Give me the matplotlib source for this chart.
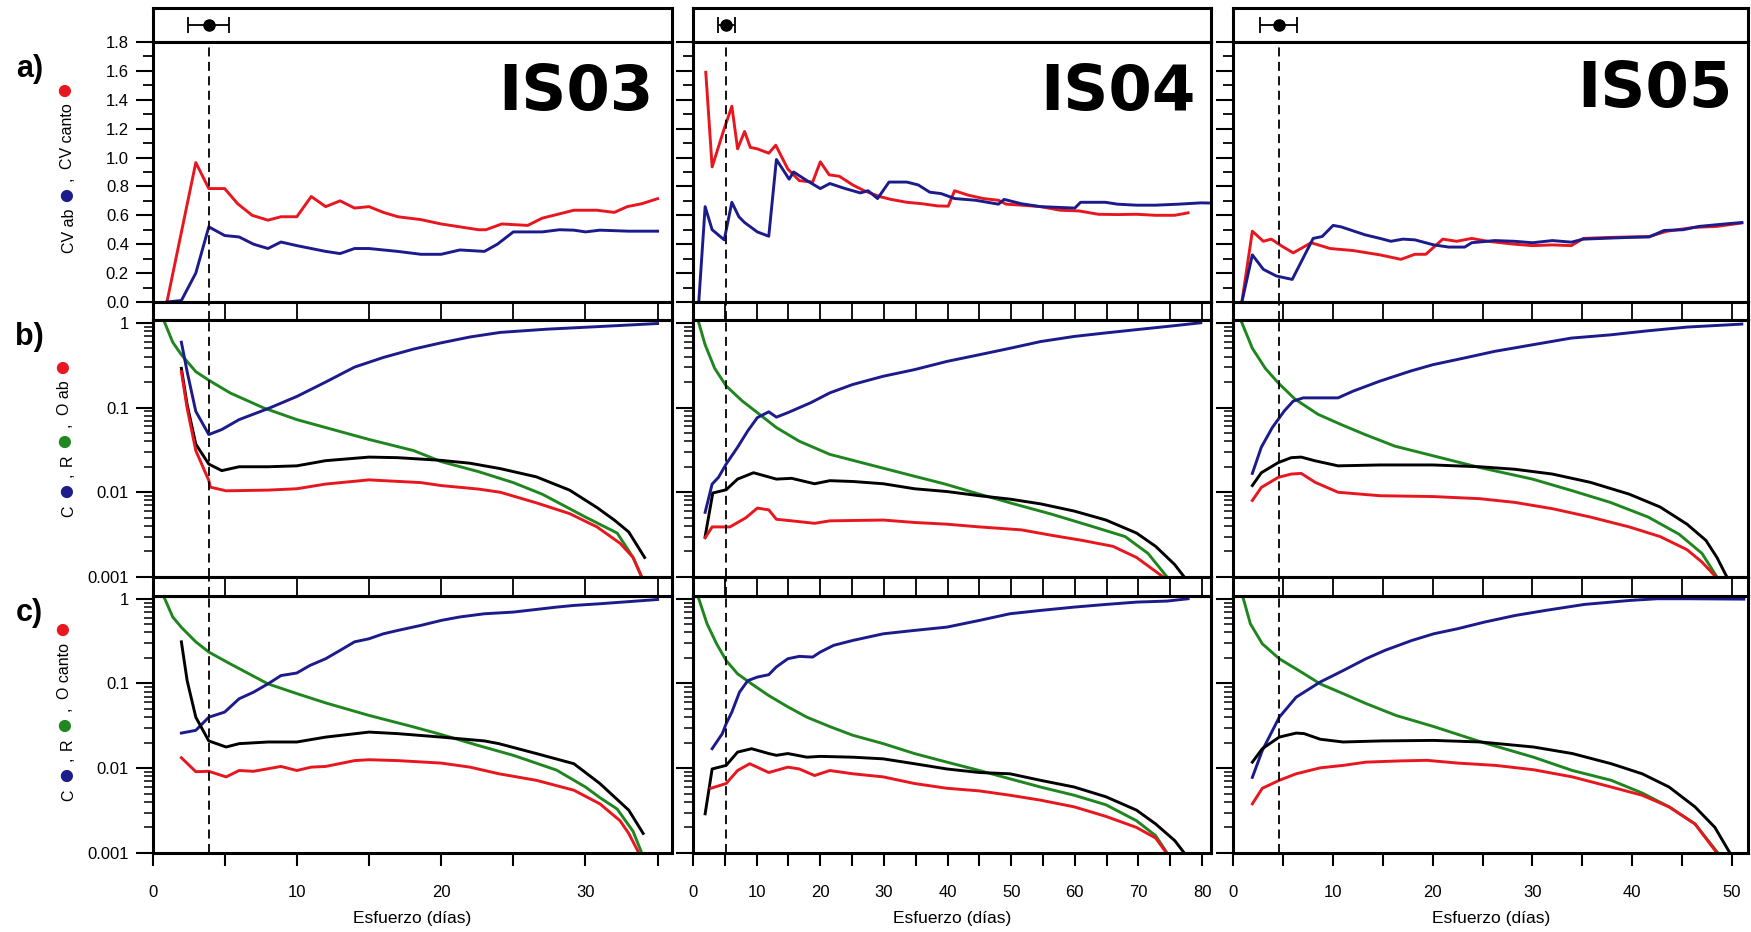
import matplotlib.pyplot as plt
from matplotlib.ticker import MultipleLocator, LogLocator, NullFormatter, FixedLocator, FixedFormatter

plt.rcParams['font.family'] = ['Liberation Sans', 'DejaVu Sans']
plt.rcParams['font.size'] = 12

RED = '#e8161e'
BLUE = '#1b1b8c'
GREEN = '#1f861f'

# ---------------- data ----------------
sites = ["IS03", "IS04", "IS05"]
x_max = [36.0, 81.4, 51.6]
effort_mean = [3.9, 5.2, 4.6]
effort_err_low = [1.45, 1.2, 1.9]
effort_err_high = [1.4, 1.4, 1.75]

# a) CV ab (blue) / CV canto (red)
is03_cv_canto_x = [1.0, 3.0, 3.9, 5.0, 5.9, 6.9, 8.0, 8.9, 10.0, 11.0, 12.0, 13.0, 14.0, 15.0, 16.0, 17.0,
                   18.6, 20.0, 21.3, 22.6, 23.1, 24.2, 26.0, 27.0, 28.2, 29.2, 30.8, 32.0, 32.9, 33.9, 35.0]
is03_cv_canto = [0.0, 0.965, 0.785, 0.785, 0.68, 0.60, 0.566, 0.59, 0.59, 0.73, 0.66, 0.70, 0.65, 0.66, 0.62,
                 0.59, 0.57, 0.54, 0.52, 0.50, 0.50, 0.54, 0.53, 0.58, 0.61, 0.635, 0.635, 0.62, 0.66, 0.68, 0.715]
is03_cv_ab_x = [1.0, 2.0, 3.0, 3.9, 5.0, 6.0, 7.0, 8.0, 8.9, 10.0, 12.0, 13.0, 14.0, 15.0, 17.0, 18.6, 20.0,
                21.3, 23.0, 23.9, 25.0, 26.0, 27.0, 28.2, 29.2, 30.0, 31.0, 33.0, 35.0]
is03_cv_ab = [0.0, 0.01, 0.2, 0.52, 0.46, 0.45, 0.40, 0.37, 0.415, 0.39, 0.35, 0.335, 0.37, 0.37, 0.35, 0.33,
              0.33, 0.36, 0.35, 0.40, 0.485, 0.485, 0.485, 0.50, 0.497, 0.485, 0.497, 0.49, 0.49]

is04_cv_canto_x = [2.0, 3.0, 4.9, 6.1, 7.0, 8.1, 9.0, 10.1, 11.9, 13.0, 14.9, 16.7, 18.8, 20.0, 21.4, 23.0,
                   25.1, 26.9, 29.3, 31.1, 33.6, 36.0, 38.4, 40.1, 41.1, 43.2, 45.6, 48.0, 49.2, 51.6, 54.6,
                   57.7, 60.7, 63.7, 66.7, 69.7, 72.7, 75.7, 77.8]
is04_cv_canto = [1.59, 0.935, 1.2, 1.355, 1.06, 1.18, 1.07, 1.06, 1.03, 1.085, 0.92, 0.84, 0.83, 0.97, 0.88,
                 0.87, 0.81, 0.77, 0.73, 0.71, 0.69, 0.68, 0.665, 0.663, 0.77, 0.74, 0.716, 0.704, 0.677,
                 0.67, 0.66, 0.635, 0.63, 0.607, 0.605, 0.607, 0.60, 0.60, 0.617]
is04_cv_ab_x = [0.9, 1.9, 3.0, 4.9, 6.1, 7.2, 8.1, 10.1, 11.9, 13.1, 15.1, 15.8, 17.9, 20.0, 21.5, 23.9,
                26.3, 27.5, 29.0, 30.8, 33.6, 35.4, 37.2, 39.0, 41.1, 44.4, 48.0, 48.9, 51.6, 54.6, 60.0,
                60.9, 64.8, 66.7, 69.7, 72.7, 76.3, 79.8, 81.0]
is04_cv_ab = [0.0, 0.66, 0.50, 0.43, 0.69, 0.59, 0.55, 0.485, 0.455, 0.986, 0.85, 0.90, 0.84, 0.785, 0.82,
              0.785, 0.755, 0.77, 0.716, 0.83, 0.83, 0.81, 0.76, 0.75, 0.716, 0.704, 0.677, 0.71, 0.68,
              0.66, 0.65, 0.69, 0.69, 0.677, 0.67, 0.67, 0.677, 0.686, 0.685]

is05_cv_canto_x = [0.85, 1.9, 3.0, 3.8, 4.9, 6.0, 7.8, 9.7, 12.0, 14.7, 16.8, 18.2, 19.3, 21.0, 22.4, 23.9,
                   25.5, 28.2, 30.0, 32.0, 33.9, 35.1, 37.8, 41.7, 43.5, 46.2, 48.5, 51.0]
is05_cv_canto = [0.0, 0.49, 0.42, 0.435, 0.385, 0.34, 0.41, 0.37, 0.356, 0.326, 0.295, 0.33, 0.33, 0.435,
                 0.42, 0.44, 0.42, 0.40, 0.39, 0.395, 0.39, 0.44, 0.447, 0.453, 0.49, 0.516, 0.523, 0.547]
is05_cv_ab_x = [0.85, 1.9, 3.0, 4.3, 5.9, 8.0, 8.9, 10.0, 10.8, 13.2, 14.7, 15.8, 17.0, 18.2, 20.1, 21.6,
                23.2, 23.9, 26.2, 28.2, 30.0, 32.0, 33.9, 35.1, 39.7, 41.7, 43.2, 45.1, 46.7, 49.3, 51.0]
is05_cv_ab = [0.0, 0.326, 0.226, 0.18, 0.156, 0.44, 0.453, 0.53, 0.52, 0.465, 0.44, 0.42, 0.435, 0.43,
              0.395, 0.38, 0.38, 0.41, 0.425, 0.42, 0.41, 0.425, 0.414, 0.435, 0.447, 0.45, 0.495, 0.50,
              0.523, 0.54, 0.55]

# b) C (blue), R (green), O ab (red), total (black)
is03_b_r_x = [0.85, 1.4, 2.0, 3.0, 3.9, 5.4, 7.7, 10.0, 12.0, 15.0, 18.1, 20.0, 22.6, 25.0, 27.0, 30.0,
              32.2, 33.3, 33.9]
is03_b_r = [1.0, 0.59, 0.42, 0.265, 0.21, 0.148, 0.099, 0.072, 0.058, 0.042, 0.031, 0.023, 0.0175, 0.013,
            0.0095, 0.0051, 0.0033, 0.0017, 0.001]
is03_b_c_x = [2.0, 2.4, 3.0, 3.9, 4.8, 6.0, 8.0, 10.0, 12.0, 14.0, 16.0, 18.1, 20.0, 22.0, 24.1, 27.3,
              30.8, 35.0]
is03_b_c = [0.59, 0.265, 0.09, 0.048, 0.055, 0.072, 0.097, 0.135, 0.2, 0.30, 0.39, 0.49, 0.58, 0.68, 0.77,
            0.84, 0.90, 0.98]
is03_b_t_x = [2.0, 2.4, 3.0, 3.9, 4.8, 6.0, 8.0, 10.0, 12.0, 15.0, 17.0, 20.0, 22.0, 24.1, 26.6, 28.9,
              30.8, 32.0, 33.0, 34.1]
is03_b_t = [0.29, 0.108, 0.037, 0.0215, 0.018, 0.020, 0.020, 0.0205, 0.0236, 0.026, 0.0256, 0.0238,
            0.022, 0.019, 0.0152, 0.0106, 0.0066, 0.0047, 0.0034, 0.0017]
is03_b_o_x = [2.0, 2.4, 3.0, 3.9, 4.0, 5.1, 8.0, 10.0, 12.0, 15.0, 18.6, 20.0, 22.6, 24.1, 26.6, 28.9,
              30.8, 32.4, 33.3, 33.9]
is03_b_o = [0.265, 0.098, 0.031, 0.0138, 0.0115, 0.0104, 0.0106, 0.011, 0.0125, 0.014, 0.013, 0.012,
            0.0109, 0.0100, 0.0075, 0.0056, 0.0039, 0.0025, 0.0017, 0.001]

is04_b_r_x = [0.9, 1.9, 3.4, 5.2, 7.7, 10.1, 13.1, 16.7, 21.5, 27.5, 33.6, 39.6, 45.0, 50.4, 56.4, 62.5,
              67.9, 71.5, 74.5]
is04_b_r = [1.0, 0.55, 0.29, 0.18, 0.12, 0.087, 0.058, 0.04, 0.028, 0.0214, 0.0163, 0.0125, 0.0095,
            0.0073, 0.0055, 0.0040, 0.0030, 0.0019, 0.001]
is04_b_c_x = [1.9, 3.0, 4.0, 5.2, 7.0, 8.6, 10.1, 11.9, 13.1, 14.9, 18.5, 21.5, 25.1, 29.9, 34.8, 39.9,
              45.0, 49.8, 54.6, 59.9, 64.9, 69.7, 74.5, 79.8]
is04_b_c = [0.0058, 0.0125, 0.015, 0.0215, 0.034, 0.053, 0.076, 0.089, 0.077, 0.087, 0.114, 0.149, 0.187,
            0.234, 0.28, 0.35, 0.42, 0.50, 0.60, 0.69, 0.76, 0.83, 0.905, 1.0]
is04_b_t_x = [1.9, 3.1, 5.2, 7.0, 9.5, 11.3, 13.1, 15.5, 19.1, 21.5, 25.1, 29.9, 34.8, 39.9, 45.0, 49.8,
              54.6, 59.9, 64.9, 69.7, 72.7, 75.7, 77.2]
is04_b_t = [0.0030, 0.0098, 0.0107, 0.0143, 0.017, 0.0156, 0.0143, 0.0146, 0.0126, 0.0137, 0.0134,
            0.0126, 0.011, 0.0102, 0.0091, 0.0083, 0.0073, 0.006, 0.0047, 0.0033, 0.0023, 0.0014, 0.001]
is04_b_o_x = [1.9, 3.0, 5.8, 8.3, 10.1, 11.9, 13.1, 15.5, 19.1, 21.5, 29.9, 34.8, 39.9, 45.0, 51.6, 56.4,
              61.2, 66.0, 69.7, 73.9]
is04_b_o = [0.0029, 0.0039, 0.0039, 0.005, 0.0065, 0.0062, 0.0048, 0.0046, 0.0043, 0.0046, 0.0047,
            0.0044, 0.0042, 0.0039, 0.0036, 0.0031, 0.0027, 0.0023, 0.0017, 0.001]

is05_b_r_x = [0.85, 1.9, 3.2, 4.5, 6.2, 8.5, 10.8, 13.2, 16.2, 20.0, 24.7, 30.0, 33.9, 37.8, 41.6, 44.7,
              47.0, 48.5]
is05_b_r = [1.0, 0.50, 0.29, 0.195, 0.125, 0.083, 0.063, 0.048, 0.035, 0.027, 0.0196, 0.0143, 0.0105,
            0.0076, 0.0051, 0.0032, 0.0019, 0.001]
is05_b_c_x = [1.9, 2.8, 3.9, 5.1, 6.0, 7.0, 8.5, 10.5, 12.0, 14.7, 17.8, 20.0, 23.2, 26.2, 30.0, 33.9,
              37.8, 41.6, 45.5, 51.0]
is05_b_c = [0.0167, 0.034, 0.058, 0.091, 0.119, 0.13, 0.13, 0.13, 0.156, 0.205, 0.27, 0.32, 0.385, 0.46,
            0.55, 0.66, 0.72, 0.805, 0.89, 0.965]
is05_b_t_x = [1.9, 2.8, 4.5, 5.8, 6.8, 8.2, 10.5, 14.7, 20.0, 24.7, 28.2, 32.0, 35.8, 39.7, 42.8, 45.5,
              47.4, 48.5, 49.5]
is05_b_t = [0.012, 0.017, 0.0224, 0.0256, 0.026, 0.0235, 0.0205, 0.021, 0.021, 0.020, 0.0187, 0.0164,
            0.0131, 0.0095, 0.0067, 0.0042, 0.0027, 0.0017, 0.001]
is05_b_o_x = [1.9, 2.8, 4.5, 5.8, 6.8, 8.2, 10.5, 14.7, 20.0, 24.7, 28.2, 32.0, 35.8, 39.7, 42.8, 45.5,
              47.0, 48.4]
is05_b_o = [0.0080, 0.0114, 0.015, 0.0164, 0.0167, 0.0131, 0.010, 0.0091, 0.0089, 0.0084, 0.0076,
            0.0064, 0.0051, 0.0039, 0.0030, 0.0021, 0.0015, 0.001]

# c) C (blue), R (green), O canto (red), total (black)
is03_c_r_x = [0.85, 1.4, 2.0, 3.0, 3.9, 5.4, 8.0, 10.0, 12.0, 15.0, 18.0, 20.0, 22.6, 25.0, 28.0, 30.0,
              31.0, 32.2, 33.3, 33.9]
is03_c_r = [1.0, 0.61, 0.46, 0.31, 0.235, 0.17, 0.099, 0.076, 0.059, 0.042, 0.031, 0.025, 0.0185, 0.0142,
            0.0095, 0.006, 0.0045, 0.0033, 0.0018, 0.001]
is03_c_c_x = [2.0, 3.0, 3.9, 5.0, 6.0, 7.0, 8.0, 8.9, 10.0, 10.9, 12.0, 13.0, 14.0, 15.0, 16.0, 17.0,
              18.6, 20.0, 21.3, 23.0, 25.0, 26.6, 28.0, 29.2, 31.0, 35.0]
is03_c_c = [0.026, 0.028, 0.040, 0.046, 0.066, 0.079, 0.099, 0.124, 0.133, 0.163, 0.196, 0.246, 0.31,
            0.337, 0.386, 0.423, 0.485, 0.555, 0.61, 0.665, 0.696, 0.748, 0.797, 0.834, 0.873, 0.98]
is03_c_t_x = [2.0, 2.4, 3.0, 3.9, 5.1, 6.0, 8.0, 10.0, 12.0, 15.0, 17.0, 20.0, 23.0, 24.0, 26.6, 29.2,
              31.0, 33.0, 34.0]
is03_c_t = [0.31, 0.108, 0.04, 0.021, 0.0178, 0.0195, 0.0204, 0.0204, 0.0233, 0.0267, 0.0256, 0.0233,
            0.021, 0.0195, 0.0149, 0.0113, 0.0066, 0.0032, 0.0017]
is03_c_o_x = [2.0, 3.0, 3.9, 5.1, 6.0, 7.0, 8.9, 10.0, 11.0, 12.0, 14.0, 15.0, 17.0, 20.0, 22.0, 24.0,
              26.6, 29.2, 31.0, 32.4, 33.0, 33.7]
is03_c_o = [0.0133, 0.0091, 0.0092, 0.0079, 0.0094, 0.0092, 0.0105, 0.0094, 0.0103, 0.0105, 0.0123,
            0.0126, 0.0123, 0.0115, 0.0103, 0.0086, 0.0072, 0.0055, 0.0038, 0.0024, 0.0017, 0.001]

is04_c_r_x = [0.9, 2.2, 3.7, 5.2, 7.0, 9.2, 11.9, 14.9, 17.9, 21.5, 25.1, 29.9, 34.8, 39.9, 45.0, 49.8,
              54.6, 59.9, 64.9, 69.7, 72.7, 74.5]
is04_c_r = [1.0, 0.507, 0.294, 0.187, 0.13, 0.099, 0.072, 0.053, 0.04, 0.031, 0.0245, 0.0195, 0.0149,
            0.0118, 0.0094, 0.0075, 0.006, 0.0048, 0.0037, 0.0024, 0.0016, 0.001]
is04_c_c_x = [3.0, 4.6, 5.2, 6.1, 7.3, 8.6, 10.1, 11.9, 13.1, 14.9, 16.7, 18.8, 20.0, 22.1, 25.1, 29.9,
              34.8, 39.9, 45.0, 49.8, 54.6, 59.9, 64.9, 69.7, 74.5, 77.8]
is04_c_c = [0.017, 0.0256, 0.0335, 0.046, 0.079, 0.108, 0.119, 0.127, 0.157, 0.196, 0.209, 0.205, 0.235,
            0.282, 0.322, 0.386, 0.423, 0.463, 0.555, 0.665, 0.728, 0.797, 0.857, 0.913, 0.939, 1.0]
is04_c_t_x = [1.9, 3.0, 5.2, 7.0, 9.2, 11.9, 13.1, 14.9, 17.9, 20.0, 25.1, 29.9, 34.8, 39.9, 45.0, 49.8,
              54.6, 59.9, 64.9, 69.7, 72.7, 75.7, 77.2]
is04_c_t = [0.0029, 0.0098, 0.0108, 0.0155, 0.017, 0.0149, 0.0142, 0.0149, 0.0135, 0.0138, 0.0135,
            0.0129, 0.0113, 0.0098, 0.0089, 0.0086, 0.0072, 0.006, 0.0046, 0.0032, 0.0022, 0.0014, 0.001]
is04_c_o_x = [2.8, 5.2, 7.0, 8.9, 11.9, 14.9, 16.7, 19.1, 21.5, 25.1, 29.9, 34.8, 39.9, 45.0, 49.8, 54.6,
              59.9, 64.9, 69.7, 72.7, 74.4]
is04_c_o = [0.0058, 0.0066, 0.0094, 0.0113, 0.0089, 0.0103, 0.0098, 0.0082, 0.0094, 0.0086, 0.0079,
            0.0066, 0.0058, 0.0054, 0.0048, 0.0042, 0.0035, 0.0027, 0.002, 0.0015, 0.001]

is05_c_r_x = [1.0, 1.7, 2.9, 4.6, 7.1, 8.7, 11.0, 13.3, 16.3, 20.1, 24.8, 30.1, 34.0, 37.9, 41.0, 43.7,
              46.3, 48.6]
is05_c_r = [1.0, 0.507, 0.294, 0.196, 0.13, 0.099, 0.076, 0.058, 0.042, 0.031, 0.0205, 0.0135, 0.0094,
            0.0072, 0.0051, 0.0035, 0.0022, 0.001]
is05_c_c_x = [1.9, 2.9, 4.6, 6.3, 8.7, 11.0, 13.3, 15.2, 17.9, 20.1, 22.5, 25.2, 28.3, 31.3, 35.2, 39.8,
              42.5, 45.6, 51.2]
is05_c_c = [0.0078, 0.0162, 0.040, 0.069, 0.104, 0.142, 0.196, 0.246, 0.322, 0.386, 0.443, 0.531, 0.636,
            0.728, 0.857, 0.956, 1.0, 1.0, 0.99]
is05_c_t_x = [1.9, 2.9, 4.6, 6.3, 7.1, 8.7, 11.0, 14.8, 20.1, 24.8, 30.1, 34.0, 37.9, 41.0, 43.7, 46.3,
              48.3, 49.8]
is05_c_t = [0.0118, 0.017, 0.0233, 0.026, 0.0256, 0.022, 0.0204, 0.021, 0.0213, 0.0204, 0.0178, 0.0149,
            0.0113, 0.0086, 0.006, 0.0035, 0.002, 0.001]
is05_c_o_x = [1.9, 2.9, 4.6, 6.3, 8.7, 11.0, 13.3, 16.7, 19.4, 22.5, 26.3, 30.1, 34.0, 37.9, 41.0, 43.7,
              46.3, 48.5]
is05_c_o = [0.0038, 0.0058, 0.0072, 0.0086, 0.0101, 0.0108, 0.0118, 0.0122, 0.0124, 0.0115, 0.0108,
            0.0096, 0.0079, 0.006, 0.0048, 0.0035, 0.0022, 0.001]

# per column bundles (order: red, blue) and (green, blue, black, red)
panel_a = [
    [(is03_cv_canto_x, is03_cv_canto, RED), (is03_cv_ab_x, is03_cv_ab, BLUE)],
    [(is04_cv_canto_x, is04_cv_canto, RED), (is04_cv_ab_x, is04_cv_ab, BLUE)],
    [(is05_cv_canto_x, is05_cv_canto, RED), (is05_cv_ab_x, is05_cv_ab, BLUE)],
]
panel_b = [
    [(is03_b_r_x, is03_b_r, GREEN), (is03_b_c_x, is03_b_c, BLUE), (is03_b_t_x, is03_b_t, 'k'), (is03_b_o_x, is03_b_o, RED)],
    [(is04_b_r_x, is04_b_r, GREEN), (is04_b_c_x, is04_b_c, BLUE), (is04_b_t_x, is04_b_t, 'k'), (is04_b_o_x, is04_b_o, RED)],
    [(is05_b_r_x, is05_b_r, GREEN), (is05_b_c_x, is05_b_c, BLUE), (is05_b_t_x, is05_b_t, 'k'), (is05_b_o_x, is05_b_o, RED)],
]
panel_c = [
    [(is03_c_r_x, is03_c_r, GREEN), (is03_c_c_x, is03_c_c, BLUE), (is03_c_t_x, is03_c_t, 'k'), (is03_c_o_x, is03_c_o, RED)],
    [(is04_c_r_x, is04_c_r, GREEN), (is04_c_c_x, is04_c_c, BLUE), (is04_c_t_x, is04_c_t, 'k'), (is04_c_o_x, is04_c_o, RED)],
    [(is05_c_r_x, is05_c_r, GREEN), (is05_c_c_x, is05_c_c, BLUE), (is05_c_t_x, is05_c_t, 'k'), (is05_c_o_x, is05_c_o, RED)],
]

# ---------------- layout ----------------
fig = plt.figure(figsize=(17.51, 9.32), dpi=100)

col_left = [0.0871, 0.3958, 0.7044]
col_width = [0.2967, 0.2958, 0.2938]
row_top = (0.9549, 0.0365)
row_a = (0.676, 0.279)
row_gap1 = (0.6567, 0.0193)
row_b = (0.3809, 0.2758)
row_gap2 = (0.3605, 0.0204)
row_c = (0.0848, 0.2758)

SPINE_W = 2.2
LINE_W = 2.1
DASH = (0, (5, 3))


def frame(ax):
    for s in ax.spines.values():
        s.set_linewidth(SPINE_W)


def strip(rect, xmax, xdash):
    ax = fig.add_axes(rect)
    ax.set_xlim(0, xmax)
    ax.set_ylim(0, 1)
    ax.set_xticks([])
    ax.set_yticks([])
    frame(ax)
    for t in range(5, int(xmax) + 1, 5):
        ax.axvline(t, color='k', lw=1.3)
    ax.axvline(xdash, color='k', lw=1.3, ls=DASH)
    return ax


for i in range(3):
    L, W = col_left[i], col_width[i]
    xm = x_max[i]
    xd = effort_mean[i]

    # top strip with mean effort +- error
    ax = fig.add_axes([L, row_top[0], W, row_top[1]])
    ax.set_xlim(0, xm)
    ax.set_ylim(0, 1)
    ax.set_xticks([])
    ax.set_yticks([])
    frame(ax)
    ax.errorbar([effort_mean[i]], [0.5], xerr=[[effort_err_low[i]], [effort_err_high[i]]],
                fmt='o', color='k', ms=8, capsize=6, elinewidth=1.3, capthick=1.3)

    # panel a
    ax = fig.add_axes([L, row_a[0], W, row_a[1]])
    for x, y, c in panel_a[i]:
        ax.plot(x, y, color=c, lw=LINE_W)
    ax.set_xlim(0, xm)
    ax.set_ylim(0, 1.8)
    ax.yaxis.set_major_locator(MultipleLocator(0.2))
    ax.yaxis.set_minor_locator(MultipleLocator(0.1))
    ax.tick_params(axis='y', which='major', direction='out', length=12, width=1.5, pad=5,
                   labelleft=(i == 0), labelsize=12)
    ax.tick_params(axis='y', which='minor', direction='out', length=7.5, width=1.3)
    ax.yaxis.set_major_formatter(lambda v, p: f"{v:.1f}")
    ax.tick_params(axis='x', which='both', bottom=False, labelbottom=False)
    ax.axvline(xd, color='k', lw=1.3, ls=DASH)
    frame(ax)
    ax.text([0.9646, 0.971, 0.971][i], [0.737, 0.737, 0.75][i], sites[i], transform=ax.transAxes,
            ha='right', va='baseline', fontsize=45, fontweight='bold', family='DejaVu Sans')

    strip([L, row_gap1[0], W, row_gap1[1]], xm, xd)

    # panels b and c (log)
    for rect, data, is_bottom in ((row_b, panel_b[i], False), (row_c, panel_c[i], True)):
        ax = fig.add_axes([L, rect[0], W, rect[1]])
        for x, y, c in data:
            ax.plot(x, y, color=c, lw=LINE_W)
        ax.set_yscale('log')
        ax.set_xlim(0, xm)
        ax.set_ylim(0.001, 1.08)
        ax.yaxis.set_major_locator(FixedLocator([0.001, 0.01, 0.1, 1]))
        ax.yaxis.set_major_formatter(FixedFormatter(["0.001", "0.01", "0.1", "1"]))
        ax.yaxis.set_minor_locator(LogLocator(base=10, subs=range(2, 10), numticks=20))
        ax.yaxis.set_minor_formatter(NullFormatter())
        ax.tick_params(axis='y', which='major', direction='out', length=12, width=1.5, pad=5,
                       labelleft=(i == 0), labelsize=12)
        ax.tick_params(axis='y', which='minor', direction='out', length=6.5, width=1.1)
        ax.axvline(xd, color='k', lw=1.3, ls=DASH)
        frame(ax)
        if is_bottom:
            ax.xaxis.set_major_locator(MultipleLocator(10))
            ax.xaxis.set_minor_locator(MultipleLocator(5))
            ax.tick_params(axis='x', which='major', direction='out', length=9, width=1.5, pad=14,
                           labelsize=12)
            ax.tick_params(axis='x', which='minor', direction='out', length=9, width=1.5)
            ax.set_xlabel("Esfuerzo (días)", fontsize=12.5)
            ax.xaxis.set_label_coords(0.5, -0.225)
        else:
            ax.tick_params(axis='x', which='both', bottom=False, labelbottom=False)

    strip([L, row_gap2[0], W, row_gap2[1]], xm, xd)

# panel letters
for lab, y in (("a)", 0.9265), ("b)", 0.6384), ("c)", 0.3423)):
    fig.text(0.0168, y, lab, fontsize=22, fontweight='bold', ha='center', va='center')

# multi-coloured rotated y labels (text pieces chained upwards)
label_font = ['Liberation Sans', 'DejaVu Sans']


def vertical_label(x, y, pieces, colors):
    t = fig.text(x, y, pieces[0], color=colors[0], rotation=90, ha='center', va='bottom',
                 fontsize=11.5, family=label_font)
    anchor_ax = fig.axes[0]
    for s, c in zip(pieces[1:], colors[1:]):
        dot = s == "●"
        # the round markers come from DejaVu Sans, which draws a larger dot
        t = anchor_ax.annotate(s, xy=(0.5, 1), xycoords=t, xytext=(-1.5 if dot else 0, 5),
                               textcoords='offset points', rotation=90, ha='center', va='bottom',
                               color=c, fontsize=11.5,
                               family=['DejaVu Sans'] if dot else label_font)


vertical_label(0.0395, 0.7285, ["CV ab", "●", ",", "CV canto", "●"], ['k', BLUE, 'k', 'k', RED])
vertical_label(0.0395, 0.4456, ["C", "●", ",", "R", "●", ",", "O ab", "●"],
               ['k', BLUE, 'k', 'k', GREEN, 'k', 'k', RED])
vertical_label(0.0395, 0.1409, ["C", "●", ",", "R", "●", ",", "O canto", "●"],
               ['k', BLUE, 'k', 'k', GREEN, 'k', 'k', RED])

plt.savefig('out.png', dpi=100)
